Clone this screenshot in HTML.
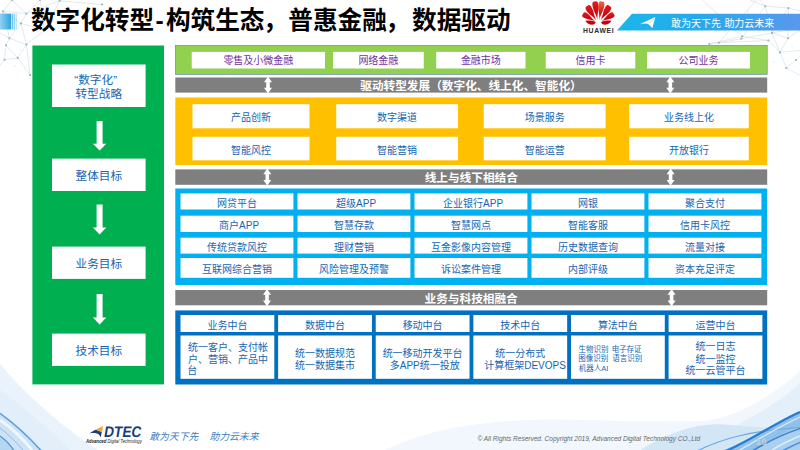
<!DOCTYPE html>
<html lang="zh-CN"><head><meta charset="utf-8"><title>数字化转型</title>
<style>
html,body{margin:0;padding:0;background:#fff}
body{width:800px;height:450px;overflow:hidden;font-family:"Liberation Sans","Noto Sans CJK SC",sans-serif}
#slide{position:relative;width:800px;height:450px;overflow:hidden;background:#fff}
.b{position:absolute}
.t{position:absolute;color:transparent;white-space:nowrap;line-height:1.2;overflow:hidden;height:1.2em}
svg.l{position:absolute;left:0;top:0;width:800px;height:450px}
svg.l text{font-family:"Liberation Sans","Noto Sans CJK SC",sans-serif;white-space:pre}
.ft{position:absolute;font-style:italic;white-space:nowrap}
</style></head><body><div id="slide">
<svg class="l" viewBox="0 0 800 450">
<defs>
<linearGradient id="gbar" x1="0" x2="1" y1="0" y2="0"><stop offset="0" stop-color="#93d0f1"/><stop offset="1" stop-color="#27a6e0"/></linearGradient>
<linearGradient id="gban" x1="0" x2="1" y1="0" y2="0"><stop offset="0" stop-color="#1bb6ea"/><stop offset="0.45" stop-color="#27a9ea"/><stop offset="1" stop-color="#5998ee"/></linearGradient>
<linearGradient id="gpl" x1="0" x2="0" y1="0" y2="1"><stop offset="0" stop-color="#e21a1e"/><stop offset="1" stop-color="#b8000c"/></linearGradient>
<linearGradient id="gpr" x1="0" x2="0" y1="0" y2="1"><stop offset="0" stop-color="#f26a48"/><stop offset="0.55" stop-color="#dc1c1c"/><stop offset="1" stop-color="#bc000c"/></linearGradient>
<linearGradient id="gwl" x1="0" x2="1" y1="0" y2="1"><stop offset="0" stop-color="#f1f7fc"/><stop offset="1" stop-color="#dcebf8"/></linearGradient>
</defs>
<path d="M3 11.3L21 23.4M3 11.3L26.4 13.6M21 23.4L26.4 13.6M21 23.4L9.4 38.2M9.4 38.2L6 45.3M9.4 38.2L26.4 44.6M6 45.3L17.8 57.9M26.4 44.6L17.8 57.9M17.8 57.9L4.5 59.7M6 45.3L4.5 59.7M26.4 13.6L59.7 0.8M26.4 13.6L40 0M59.7 0.8L102 4.5M3 11.3L-5 30M9.4 38.2L-5 30M4.5 59.7L-4 70M17.8 57.9L30 75M26.4 44.6L45 30M21 23.4L45 30M45 30L59.7 0.8M3 11.3L12 0M26.4 13.6L12 0M21 23.4L26.4 44.6M9.4 38.2L3 11.3M26.4 44.6L30 75M45 30L40 0" stroke="#cfdbe2" stroke-width="0.6" fill="none"/><circle cx="3" cy="11.3" r="1.05" fill="#8fb6c6"/><circle cx="21" cy="23.4" r="1.05" fill="#8fb6c6"/><circle cx="26.4" cy="13.6" r="1.05" fill="#8fb6c6"/><circle cx="9.4" cy="38.2" r="1.05" fill="#8fb6c6"/><circle cx="6" cy="45.3" r="1.05" fill="#8fb6c6"/><circle cx="26.4" cy="44.6" r="1.05" fill="#8fb6c6"/><circle cx="17.8" cy="57.9" r="1.05" fill="#8fb6c6"/><circle cx="4.5" cy="59.7" r="1.05" fill="#8fb6c6"/><circle cx="59.7" cy="0.8" r="1.05" fill="#8fb6c6"/><circle cx="102" cy="4.5" r="1.05" fill="#8fb6c6"/><circle cx="40" cy="0" r="1.05" fill="#8fb6c6"/><circle cx="30" cy="75" r="1.05" fill="#8fb6c6"/><circle cx="45" cy="30" r="1.05" fill="#8fb6c6"/><circle cx="12" cy="0" r="1.05" fill="#8fb6c6"/><circle cx="14" cy="30" r="0.5" fill="#b9cdd6"/><circle cx="20" cy="50" r="0.5" fill="#b9cdd6"/><circle cx="33" cy="28" r="0.5" fill="#b9cdd6"/><circle cx="8" cy="22" r="0.5" fill="#b9cdd6"/><circle cx="36" cy="8" r="0.5" fill="#b9cdd6"/><circle cx="15" cy="66" r="0.5" fill="#b9cdd6"/><circle cx="48" cy="12" r="0.5" fill="#b9cdd6"/>
<path d="M709.3 44L718.8 42.7M718.8 42.7L741.3 38.8M741.3 38.8L772 32.9M772 32.9L805 27M741.3 38.8L765.3 6.2M765.3 6.2L788.4 8M742.2 36.4L700 -2M772 32.9L780 52.4M780 52.4L786.3 68M768.4 40.5L780 52.4M772 32.9L788 38.2M788 38.2L780 52.4M788 38.2L805 27M765.3 6.2L772 32.9M786.3 68L805 78M718.8 42.7L758 -2M788.4 8L805 12M788.4 8L788 38.2M742.2 36.4L768.4 40.5M780 52.4L805 50M765.3 6.2L745 -2M788.4 8L772 32.9M786.3 68L796 60M796 60L805 50M768.4 40.5L718.8 42.7M709.3 44L742.2 36.4M765.3 6.2L758 -2" stroke="#cfdbe2" stroke-width="0.6" fill="none"/><circle cx="765.3" cy="6.2" r="1.05" fill="#8fb6c6"/><circle cx="788.4" cy="8" r="1.05" fill="#8fb6c6"/><circle cx="709.3" cy="44" r="1.05" fill="#8fb6c6"/><circle cx="718.8" cy="42.7" r="1.05" fill="#8fb6c6"/><circle cx="741.3" cy="38.8" r="1.05" fill="#8fb6c6"/><circle cx="742.2" cy="36.4" r="1.05" fill="#8fb6c6"/><circle cx="772" cy="32.9" r="1.05" fill="#8fb6c6"/><circle cx="768.4" cy="40.5" r="1.05" fill="#8fb6c6"/><circle cx="788" cy="38.2" r="1.05" fill="#8fb6c6"/><circle cx="780" cy="52.4" r="1.05" fill="#8fb6c6"/><circle cx="786.3" cy="68" r="1.05" fill="#8fb6c6"/><circle cx="796" cy="60" r="1.05" fill="#8fb6c6"/><circle cx="730" cy="20" r="0.5" fill="#b9cdd6"/><circle cx="752" cy="25" r="0.5" fill="#b9cdd6"/><circle cx="776" cy="18" r="0.5" fill="#b9cdd6"/><circle cx="794" cy="22" r="0.5" fill="#b9cdd6"/><circle cx="760" cy="48" r="0.5" fill="#b9cdd6"/><circle cx="792" cy="46" r="0.5" fill="#b9cdd6"/><circle cx="774" cy="62" r="0.5" fill="#b9cdd6"/><circle cx="722" cy="30" r="0.5" fill="#b9cdd6"/><circle cx="748" cy="12" r="0.5" fill="#b9cdd6"/><circle cx="784" cy="30" r="0.5" fill="#b9cdd6"/>
<rect x="0" y="13.6" width="11.3" height="15.9" fill="url(#gbar)"/>
<rect x="12.3" y="13.6" width="1.0" height="15.9" fill="#3aaee3"/>
<rect x="14.4" y="13.6" width="0.8" height="15.9" fill="#55b8e7"/>
<rect x="16.1" y="13.6" width="0.5" height="15.9" fill="#7cc8ec"/>
<path d="M632.0 13.7H800V30.6H616.9z" fill="url(#gban)"/>
<path d="M655.4 16.9L639.8 24.2Q645 22.9 647.7 23.8Q650.4 25.4 652.3 28.2z" fill="#fff"/>
<path d="M654.6 18.2L648.6 23.6" stroke="#58c2ee" stroke-width="0.5" fill="none"/>
<path fill="url(#gpl)" d="M597.40 19.80C597.08 13.85 599.07 9.83 598.37 4.68C597.92 1.36 596.75 0.77 594.90 1.40C592.95 1.29 591.98 2.17 592.43 5.48C593.13 10.64 596.12 13.98 597.40 19.80z"/>
<path fill="url(#gpr)" d="M599.40 19.80C600.68 13.98 603.67 10.64 604.37 5.48C604.82 2.17 603.85 1.29 601.90 1.40C600.05 0.77 598.88 1.36 598.43 4.68C597.73 9.83 599.72 13.85 599.40 19.80z"/>
<path fill="url(#gpl)" d="M596.10 20.20C593.67 15.40 594.06 11.20 591.56 7.22C589.96 4.66 588.68 4.68 587.20 6.00C585.37 6.75 584.79 7.90 586.40 10.46C588.89 14.44 592.84 15.92 596.10 20.20z"/>
<path fill="url(#gpl)" d="M600.70 20.20C603.96 15.92 607.91 14.44 610.40 10.46C612.01 7.90 611.43 6.75 609.60 6.00C608.12 4.68 606.84 4.66 605.24 7.22C602.74 11.20 603.13 15.40 600.70 20.20z"/>
<path fill="url(#gpl)" d="M594.90 21.00C591.32 18.34 590.15 14.90 586.81 12.92C584.67 11.64 583.68 12.22 583.00 13.90C581.84 15.30 581.80 16.45 583.95 17.72C587.28 19.71 590.86 19.11 594.90 21.00z"/>
<path fill="url(#gpl)" d="M601.90 21.00C605.94 19.11 609.52 19.71 612.85 17.72C615.00 16.45 614.96 15.30 613.80 13.90C613.12 12.22 612.13 11.64 609.99 12.92C606.65 14.90 605.48 18.34 601.90 21.00z"/>
<path fill="#c8000e" d="M595.7 22.0C592 20.5 588 20.3 585.4 20.9C587 23.6 590.4 25.2 593.4 24.6C594.7 24.2 595.5 23.2 595.7 22.0z"/>
<path fill="#c8000e" d="M601.1 22.0C604.8 20.5 608.8 20.3 611.4 20.9C609.8 23.6 606.4 25.2 603.4 24.6C602.1 24.2 601.3 23.2 601.1 22.0z"/>
<path d="M0 364C20 388 55 422 98 450H0z" fill="#eaf3fb"/>
<path d="M0 390C25 408 50 430 70 450H0z" fill="#e2eef9"/>
<path d="M0 413C14 423 30 438 41 450H0z" fill="#cde3f5"/>
<path d="M0 436C6 440 11 446 14 450H0z" fill="#b4d6f1"/>
<path d="M0 413.3C14 423.3 30 438.3 41 450.5" stroke="#5a9edb" stroke-width="1.5" fill="none"/>
<path d="M0 420C12 428 24 440 32 450" stroke="#f0f7fd" stroke-width="2.8" fill="none"/>
<path d="M0 428C8 434 17 443 23 450" stroke="#8cbfe8" stroke-width="1" fill="none"/>
<path d="M0 436C6 440 11 446 14 450.5" stroke="#4f98d6" stroke-width="1.3" fill="none"/>
<path d="M385 450C455 416 545 418 620 421C650 421.5 680 421.5 700 421C730 420 768 400 800 371V450z" fill="#f1f7fc"/>
<path d="M690 450C722 432 772 410 800 383V450z" fill="#e3effa"/>
<path d="M640 450C670 432 700 421 730 425C760 428 780 428 800 429V450z" fill="#d3e6f6"/>
<path d="M800 411C775 422 750 440 724 450H754C770 440 785 432 800 427z" fill="#8fc1eb"/>
<path d="M800 428C785 433 768 441 754 450H800z" fill="#a9d0f0"/>
<path d="M698 450.5C722 439 748 431 800 427.5" stroke="#6aa9e0" stroke-width="1.2" fill="none"/>
<path d="M800 412C775 423 750 441 726 451" stroke="#2b7bcc" stroke-width="2.2" fill="none"/>
<path d="M800 417C778 427 756 441 738 451" stroke="#d4e8f8" stroke-width="1.3" fill="none"/>
<path d="M800 428.5C785 433.5 768 441.5 753 450.5" stroke="#3a86d2" stroke-width="1.6" fill="none"/>
<path d="M800 436C790 440 780 445 772 450" stroke="#e0eefa" stroke-width="1.4" fill="none"/>
<path d="M800 442.5C794 445 788 448 783 450.5" stroke="#4a90d8" stroke-width="1.4" fill="none"/>
</svg>
<div class="b " style="left:32.40px;top:45.50px;width:131.60px;height:338.90px"></div>
<div class="b " style="left:52.00px;top:64.50px;width:93.60px;height:42.50px"></div>
<div class="b " style="left:52.00px;top:158.60px;width:93.60px;height:32.40px"></div>
<div class="b " style="left:52.00px;top:246.60px;width:93.60px;height:32.30px"></div>
<div class="b " style="left:52.00px;top:333.60px;width:93.60px;height:32.30px"></div>
<div class="b " style="left:175.30px;top:45.40px;width:591.90px;height:29.10px"></div>
<div class="b " style="left:191.75px;top:51.90px;width:133.25px;height:16.60px"></div>
<div class="b " style="left:333.00px;top:51.90px;width:90.75px;height:16.60px"></div>
<div class="b " style="left:436.25px;top:51.90px;width:89.25px;height:16.60px"></div>
<div class="b " style="left:545.75px;top:51.90px;width:89.50px;height:16.60px"></div>
<div class="b " style="left:647.00px;top:51.90px;width:103.00px;height:16.60px"></div>
<div class="b " style="left:175.30px;top:77.50px;width:591.90px;height:15.10px"></div>
<div class="b " style="left:175.30px;top:169.40px;width:591.90px;height:15.40px"></div>
<div class="b " style="left:175.30px;top:290.00px;width:591.90px;height:15.30px"></div>
<div class="b " style="left:175.30px;top:97.50px;width:591.90px;height:67.50px"></div>
<div class="b " style="left:192.50px;top:104.20px;width:117.00px;height:24.10px"></div>
<div class="b " style="left:336.25px;top:104.20px;width:121.75px;height:24.10px"></div>
<div class="b " style="left:483.75px;top:104.20px;width:121.85px;height:24.10px"></div>
<div class="b " style="left:629.25px;top:104.20px;width:119.50px;height:24.10px"></div>
<div class="b " style="left:192.50px;top:136.80px;width:117.00px;height:23.50px"></div>
<div class="b " style="left:336.25px;top:136.80px;width:121.75px;height:23.50px"></div>
<div class="b " style="left:483.75px;top:136.80px;width:121.85px;height:23.50px"></div>
<div class="b " style="left:629.25px;top:136.80px;width:119.50px;height:23.50px"></div>
<div class="b " style="left:175.30px;top:188.50px;width:591.90px;height:96.50px"></div>
<div class="b " style="left:180.50px;top:193.40px;width:112.90px;height:16.10px"></div>
<div class="b " style="left:297.50px;top:193.40px;width:112.90px;height:16.10px"></div>
<div class="b " style="left:414.50px;top:193.40px;width:112.90px;height:16.10px"></div>
<div class="b " style="left:531.50px;top:193.40px;width:112.90px;height:16.10px"></div>
<div class="b " style="left:648.50px;top:193.40px;width:112.90px;height:16.10px"></div>
<div class="b " style="left:180.50px;top:215.70px;width:112.90px;height:16.30px"></div>
<div class="b " style="left:297.50px;top:215.70px;width:112.90px;height:16.30px"></div>
<div class="b " style="left:414.50px;top:215.70px;width:112.90px;height:16.30px"></div>
<div class="b " style="left:531.50px;top:215.70px;width:112.90px;height:16.30px"></div>
<div class="b " style="left:648.50px;top:215.70px;width:112.90px;height:16.30px"></div>
<div class="b " style="left:180.50px;top:237.70px;width:112.90px;height:15.90px"></div>
<div class="b " style="left:297.50px;top:237.70px;width:112.90px;height:15.90px"></div>
<div class="b " style="left:414.50px;top:237.70px;width:112.90px;height:15.90px"></div>
<div class="b " style="left:531.50px;top:237.70px;width:112.90px;height:15.90px"></div>
<div class="b " style="left:648.50px;top:237.70px;width:112.90px;height:15.90px"></div>
<div class="b " style="left:180.50px;top:258.00px;width:112.90px;height:19.80px"></div>
<div class="b " style="left:297.50px;top:258.00px;width:112.90px;height:19.80px"></div>
<div class="b " style="left:414.50px;top:258.00px;width:112.90px;height:19.80px"></div>
<div class="b " style="left:531.50px;top:258.00px;width:112.90px;height:19.80px"></div>
<div class="b " style="left:648.50px;top:258.00px;width:112.90px;height:19.80px"></div>
<div class="b " style="left:175.30px;top:310.40px;width:591.90px;height:74.10px"></div>
<div class="b " style="left:180.50px;top:315.00px;width:93.80px;height:17.00px"></div>
<div class="b " style="left:180.50px;top:335.50px;width:93.80px;height:43.30px"></div>
<div class="b " style="left:278.12px;top:315.00px;width:93.80px;height:17.00px"></div>
<div class="b " style="left:278.12px;top:335.50px;width:93.80px;height:43.30px"></div>
<div class="b " style="left:375.74px;top:315.00px;width:93.80px;height:17.00px"></div>
<div class="b " style="left:375.74px;top:335.50px;width:93.80px;height:43.30px"></div>
<div class="b " style="left:473.36px;top:315.00px;width:93.80px;height:17.00px"></div>
<div class="b " style="left:473.36px;top:335.50px;width:93.80px;height:43.30px"></div>
<div class="b " style="left:570.98px;top:315.00px;width:93.80px;height:17.00px"></div>
<div class="b " style="left:570.98px;top:335.50px;width:93.80px;height:43.30px"></div>
<div class="b " style="left:668.60px;top:315.00px;width:93.80px;height:17.00px"></div>
<div class="b " style="left:668.60px;top:335.50px;width:93.80px;height:43.30px"></div>
<span class="t" style="left:30.9px;top:5.6px;font-size:24.65px;width:127.2px">数字化转型</span>
<span class="t" style="left:155.4px;top:5.6px;font-size:24.65px;width:13.1px">-</span>
<span class="t" style="left:165.9px;top:5.6px;font-size:24.65px;width:102.6px">构筑生态</span>
<span class="t" style="left:263.0px;top:5.6px;font-size:24.65px;width:28.6px">，</span>
<span class="t" style="left:288.3px;top:5.6px;font-size:24.65px;width:102.6px">普惠金融</span>
<span class="t" style="left:385.4px;top:5.6px;font-size:24.65px;width:28.6px">，</span>
<span class="t" style="left:412.0px;top:5.6px;font-size:24.65px;width:102.6px">数据驱动</span>
<span class="t" style="left:74.3px;top:72.3px;font-size:11.67px;width:53.0px">“数字化”</span>
<span class="t" style="left:75.5px;top:86.6px;font-size:11.67px;width:50.7px">转型战略</span>
<span class="t" style="left:75.6px;top:168.5px;font-size:11.67px;width:50.7px">整体目标</span>
<span class="t" style="left:75.6px;top:256.6px;font-size:11.67px;width:50.7px">业务目标</span>
<span class="t" style="left:75.6px;top:343.3px;font-size:11.67px;width:50.7px">技术目标</span>
<span class="t" style="left:223.4px;top:54.6px;font-size:10.00px;width:74.0px">零售及小微金融</span>
<span class="t" style="left:358.4px;top:54.6px;font-size:10.00px;width:44.0px">网络金融</span>
<span class="t" style="left:460.9px;top:54.6px;font-size:10.00px;width:44.0px">金融市场</span>
<span class="t" style="left:575.5px;top:54.6px;font-size:10.00px;width:34.0px">信用卡</span>
<span class="t" style="left:678.5px;top:54.6px;font-size:10.00px;width:44.0px">公司业务</span>
<span class="t" style="left:360.2px;top:78.5px;font-size:11.67px;width:225.7px">驱动转型发展（数字化、线上化、智能化）</span>
<span class="t" style="left:424.6px;top:170.6px;font-size:11.67px;width:97.4px">线上与线下相结合</span>
<span class="t" style="left:424.5px;top:291.3px;font-size:11.67px;width:97.4px">业务与科技相融合</span>
<span class="t" style="left:231.0px;top:111.8px;font-size:10.00px;width:44.0px">产品创新</span>
<span class="t" style="left:377.1px;top:111.8px;font-size:10.00px;width:44.0px">数字渠道</span>
<span class="t" style="left:524.7px;top:111.8px;font-size:10.00px;width:44.0px">场景服务</span>
<span class="t" style="left:664.0px;top:111.8px;font-size:10.00px;width:54.0px">业务线上化</span>
<span class="t" style="left:231.0px;top:144.1px;font-size:10.00px;width:44.0px">智能风控</span>
<span class="t" style="left:377.1px;top:144.1px;font-size:10.00px;width:44.0px">智能营销</span>
<span class="t" style="left:524.7px;top:144.1px;font-size:10.00px;width:44.0px">智能运营</span>
<span class="t" style="left:669.0px;top:144.1px;font-size:10.00px;width:44.0px">开放银行</span>
<span class="t" style="left:216.9px;top:196.9px;font-size:10.00px;width:44.0px">网贷平台</span>
<span class="t" style="left:336.1px;top:196.9px;font-size:10.00px;width:39.7px">超级APP</span>
<span class="t" style="left:443.1px;top:196.9px;font-size:10.00px;width:59.7px">企业银行APP</span>
<span class="t" style="left:578.0px;top:196.9px;font-size:10.00px;width:24.0px">网银</span>
<span class="t" style="left:685.0px;top:196.9px;font-size:10.00px;width:44.0px">聚合支付</span>
<span class="t" style="left:219.1px;top:219.3px;font-size:10.00px;width:39.7px">商户APP</span>
<span class="t" style="left:333.9px;top:219.3px;font-size:10.00px;width:44.0px">智慧存款</span>
<span class="t" style="left:450.9px;top:219.3px;font-size:10.00px;width:44.0px">智慧网点</span>
<span class="t" style="left:568.0px;top:219.3px;font-size:10.00px;width:44.0px">智能客服</span>
<span class="t" style="left:680.0px;top:219.3px;font-size:10.00px;width:54.0px">信用卡风控</span>
<span class="t" style="left:206.9px;top:241.1px;font-size:10.00px;width:64.0px">传统贷款风控</span>
<span class="t" style="left:333.9px;top:241.1px;font-size:10.00px;width:44.0px">理财营销</span>
<span class="t" style="left:430.9px;top:241.1px;font-size:10.00px;width:84.0px">互金影像内容管理</span>
<span class="t" style="left:558.0px;top:241.1px;font-size:10.00px;width:64.0px">历史数据查询</span>
<span class="t" style="left:685.0px;top:241.1px;font-size:10.00px;width:44.0px">流量对接</span>
<span class="t" style="left:201.9px;top:263.4px;font-size:10.00px;width:74.0px">互联网综合营销</span>
<span class="t" style="left:318.9px;top:263.4px;font-size:10.00px;width:74.0px">风险管理及预警</span>
<span class="t" style="left:440.9px;top:263.4px;font-size:10.00px;width:64.0px">诉讼案件管理</span>
<span class="t" style="left:568.0px;top:263.4px;font-size:10.00px;width:44.0px">内部评级</span>
<span class="t" style="left:675.0px;top:263.4px;font-size:10.00px;width:64.0px">资本充足评定</span>
<span class="t" style="left:207.4px;top:318.9px;font-size:10.00px;width:44.0px">业务中台</span>
<span class="t" style="left:305.0px;top:318.9px;font-size:10.00px;width:44.0px">数据中台</span>
<span class="t" style="left:402.6px;top:318.9px;font-size:10.00px;width:44.0px">移动中台</span>
<span class="t" style="left:500.3px;top:318.9px;font-size:10.00px;width:44.0px">技术中台</span>
<span class="t" style="left:597.9px;top:318.9px;font-size:10.00px;width:44.0px">算法中台</span>
<span class="t" style="left:695.5px;top:318.9px;font-size:10.00px;width:44.0px">运营中台</span>
<span class="t" style="left:188.0px;top:341.3px;font-size:10.00px;width:84.0px">统一客户、支付帐</span>
<span class="t" style="left:188.0px;top:353.0px;font-size:10.00px;width:84.0px">户、营销、产品中</span>
<span class="t" style="left:187.3px;top:364.8px;font-size:10.00px;width:14.0px">台</span>
<span class="t" style="left:295.0px;top:347.3px;font-size:10.00px;width:64.0px">统一数据规范</span>
<span class="t" style="left:295.0px;top:359.2px;font-size:10.00px;width:64.0px">统一数据集市</span>
<span class="t" style="left:382.6px;top:347.3px;font-size:10.00px;width:84.0px">统一移动开发平台</span>
<span class="t" style="left:389.8px;top:359.2px;font-size:10.00px;width:69.7px">多APP统一投放</span>
<span class="t" style="left:495.3px;top:347.3px;font-size:10.00px;width:54.0px">统一分布式</span>
<span class="t" style="left:484.2px;top:359.2px;font-size:10.00px;width:76.1px">计算框架DEVOPS</span>
<span class="t" style="left:578.5px;top:344.5px;font-size:7.50px;width:34.0px">生物识别</span>
<span class="t" style="left:611.6px;top:344.5px;font-size:7.50px;width:34.0px">电子存证</span>
<span class="t" style="left:578.3px;top:354.1px;font-size:7.50px;width:34.0px">图像识别</span>
<span class="t" style="left:612.3px;top:354.1px;font-size:7.50px;width:34.0px">语言识别</span>
<span class="t" style="left:578.7px;top:363.5px;font-size:7.50px;width:32.2px">机器人AI</span>
<span class="t" style="left:695.5px;top:340.8px;font-size:10.00px;width:44.0px">统一日志</span>
<span class="t" style="left:695.5px;top:352.9px;font-size:10.00px;width:44.0px">统一监控</span>
<span class="t" style="left:685.5px;top:364.8px;font-size:10.00px;width:64.0px">统一云管平台</span>
<span class="t" style="left:671.0px;top:17.3px;font-size:10.00px;width:54.0px">敢为天下先</span>
<span class="t" style="left:724.4px;top:17.3px;font-size:10.00px;width:54.0px">助力云未来</span>
<span class="t" style="left:149.2px;top:431.0px;font-size:9.80px;width:53.0px">敢为天下先</span>
<span class="t" style="left:209.4px;top:431.0px;font-size:9.80px;width:53.0px">助力云未来</span>
<svg class="l" viewBox="0 0 800 450">
<rect x="32.40" y="45.50" width="131.60" height="338.90" fill="#00b050"/>
<rect x="52.00" y="64.50" width="93.60" height="42.50" fill="#fff"/>
<rect x="52.00" y="158.60" width="93.60" height="32.40" fill="#fff"/>
<rect x="52.00" y="246.60" width="93.60" height="32.30" fill="#fff"/>
<rect x="52.00" y="333.60" width="93.60" height="32.30" fill="#fff"/>
<rect x="175.30" y="45.40" width="591.90" height="29.10" fill="#92d050" stroke="#5b86ad" stroke-width="0.6"/>
<rect x="191.75" y="51.90" width="133.25" height="16.60" fill="#fff"/>
<rect x="333.00" y="51.90" width="90.75" height="16.60" fill="#fff"/>
<rect x="436.25" y="51.90" width="89.25" height="16.60" fill="#fff"/>
<rect x="545.75" y="51.90" width="89.50" height="16.60" fill="#fff"/>
<rect x="647.00" y="51.90" width="103.00" height="16.60" fill="#fff"/>
<rect x="175.30" y="77.50" width="591.90" height="15.10" fill="#7f7f7f"/>
<rect x="175.30" y="169.40" width="591.90" height="15.40" fill="#7f7f7f"/>
<rect x="175.30" y="290.00" width="591.90" height="15.30" fill="#7f7f7f"/>
<rect x="175.30" y="97.50" width="591.90" height="67.50" fill="#ffc000"/>
<rect x="192.50" y="104.20" width="117.00" height="24.10" fill="#fff"/>
<rect x="336.25" y="104.20" width="121.75" height="24.10" fill="#fff"/>
<rect x="483.75" y="104.20" width="121.85" height="24.10" fill="#fff"/>
<rect x="629.25" y="104.20" width="119.50" height="24.10" fill="#fff"/>
<rect x="192.50" y="136.80" width="117.00" height="23.50" fill="#fff"/>
<rect x="336.25" y="136.80" width="121.75" height="23.50" fill="#fff"/>
<rect x="483.75" y="136.80" width="121.85" height="23.50" fill="#fff"/>
<rect x="629.25" y="136.80" width="119.50" height="23.50" fill="#fff"/>
<rect x="175.30" y="188.50" width="591.90" height="96.50" fill="#00b0f0"/>
<rect x="180.50" y="193.40" width="112.90" height="16.10" fill="#fff"/>
<rect x="297.50" y="193.40" width="112.90" height="16.10" fill="#fff"/>
<rect x="414.50" y="193.40" width="112.90" height="16.10" fill="#fff"/>
<rect x="531.50" y="193.40" width="112.90" height="16.10" fill="#fff"/>
<rect x="648.50" y="193.40" width="112.90" height="16.10" fill="#fff"/>
<rect x="180.50" y="215.70" width="112.90" height="16.30" fill="#fff"/>
<rect x="297.50" y="215.70" width="112.90" height="16.30" fill="#fff"/>
<rect x="414.50" y="215.70" width="112.90" height="16.30" fill="#fff"/>
<rect x="531.50" y="215.70" width="112.90" height="16.30" fill="#fff"/>
<rect x="648.50" y="215.70" width="112.90" height="16.30" fill="#fff"/>
<rect x="180.50" y="237.70" width="112.90" height="15.90" fill="#fff"/>
<rect x="297.50" y="237.70" width="112.90" height="15.90" fill="#fff"/>
<rect x="414.50" y="237.70" width="112.90" height="15.90" fill="#fff"/>
<rect x="531.50" y="237.70" width="112.90" height="15.90" fill="#fff"/>
<rect x="648.50" y="237.70" width="112.90" height="15.90" fill="#fff"/>
<rect x="180.50" y="258.00" width="112.90" height="19.80" fill="#fff"/>
<rect x="297.50" y="258.00" width="112.90" height="19.80" fill="#fff"/>
<rect x="414.50" y="258.00" width="112.90" height="19.80" fill="#fff"/>
<rect x="531.50" y="258.00" width="112.90" height="19.80" fill="#fff"/>
<rect x="648.50" y="258.00" width="112.90" height="19.80" fill="#fff"/>
<rect x="175.30" y="310.40" width="591.90" height="74.10" fill="#0070c0"/>
<rect x="180.50" y="315.00" width="93.80" height="17.00" fill="#fff"/>
<rect x="180.50" y="335.50" width="93.80" height="43.30" fill="#fff"/>
<rect x="278.12" y="315.00" width="93.80" height="17.00" fill="#fff"/>
<rect x="278.12" y="335.50" width="93.80" height="43.30" fill="#fff"/>
<rect x="375.74" y="315.00" width="93.80" height="17.00" fill="#fff"/>
<rect x="375.74" y="335.50" width="93.80" height="43.30" fill="#fff"/>
<rect x="473.36" y="315.00" width="93.80" height="17.00" fill="#fff"/>
<rect x="473.36" y="335.50" width="93.80" height="43.30" fill="#fff"/>
<rect x="570.98" y="315.00" width="93.80" height="17.00" fill="#fff"/>
<rect x="570.98" y="335.50" width="93.80" height="43.30" fill="#fff"/>
<rect x="668.60" y="315.00" width="93.80" height="17.00" fill="#fff"/>
<rect x="668.60" y="335.50" width="93.80" height="43.30" fill="#fff"/>
<path fill="#fff" d="M96.60 121.00h6.00V143.70h3.70L99.60 150.60L92.90 143.70h3.70z"/>
<path fill="#fff" d="M96.60 204.60h6.00V227.60h3.70L99.60 234.40L92.90 227.60h3.70z"/>
<path fill="#fff" d="M96.60 294.00h6.00V317.60h3.70L99.60 324.40L92.90 317.60h3.70z"/>
<path fill="#fff" d="M268.00 76.60l4.00 5.60h-2.20V87.80h2.20L268.00 93.40l-4.00 -5.60h2.20V82.20h-2.20z"/>
<path fill="#fff" d="M670.30 76.60l4.00 5.60h-2.20V87.80h2.20L670.30 93.40l-4.00 -5.60h2.20V82.20h-2.20z"/>
<path fill="#fff" d="M267.30 168.60l4.00 5.60h-2.20V180.00h2.20L267.30 185.60l-4.00 -5.60h2.20V174.20h-2.20z"/>
<path fill="#fff" d="M670.60 168.60l4.00 5.60h-2.20V180.00h2.20L670.60 185.60l-4.00 -5.60h2.20V174.20h-2.20z"/>
<path fill="#fff" d="M267.00 289.10l4.00 5.60h-2.20V300.60h2.20L267.00 306.20l-4.00 -5.60h2.20V294.70h-2.20z"/>
<path fill="#fff" d="M671.60 289.10l4.00 5.60h-2.20V300.60h2.20L671.60 306.20l-4.00 -5.60h2.20V294.70h-2.20z"/>
<g font-size="24.65" font-weight="bold" fill="#000">
<text x="30.91" y="29.40">数字化转型</text>
<text x="155.42" y="29.40">-</text>
<text x="165.91" y="29.40">构筑生态</text>
<text x="262.96" y="29.40">，</text>
<text x="288.32" y="29.40">普惠金融</text>
<text x="385.36" y="29.40">，</text>
<text x="412.01" y="29.40">数据驱动</text>
</g>
<g font-size="11.67" fill="#1465b2">
<text x="74.29" y="83.56">“数字化”</text>
<text x="75.46" y="97.86">转型战略</text>
<text x="75.56" y="179.76">整体目标</text>
<text x="75.56" y="267.86">业务目标</text>
<text x="75.56" y="354.56">技术目标</text>
</g>
<g font-size="10" fill="#7030a0">
<text x="223.38" y="64.25">零售及小微金融</text>
<text x="358.38" y="64.25">网络金融</text>
<text x="460.88" y="64.25">金融市场</text>
<text x="575.50" y="64.25">信用卡</text>
<text x="678.50" y="64.25">公司业务</text>
</g>
<g font-size="11.67" font-weight="bold" fill="#fff">
<text x="360.23" y="89.76">驱动转型发展（数字化、线上化、智能化）</text>
<text x="424.64" y="181.86">线上与线下相结合</text>
<text x="424.50" y="302.56">业务与科技相融合</text>
</g>
<g font-size="10" fill="#1465b2">
<text x="231.00" y="121.40">产品创新</text>
<text x="377.12" y="121.40">数字渠道</text>
<text x="524.67" y="121.40">场景服务</text>
<text x="664.00" y="121.40">业务线上化</text>
<text x="231.00" y="153.70">智能风控</text>
<text x="377.12" y="153.70">智能营销</text>
<text x="524.67" y="153.70">智能运营</text>
<text x="669.00" y="153.70">开放银行</text>
<text x="216.95" y="206.60">网贷平台</text>
<text x="336.08" y="206.60">超级APP</text>
<text x="443.08" y="206.60">企业银行APP</text>
<text x="577.95" y="206.60">网银</text>
<text x="684.95" y="206.60">聚合支付</text>
<text x="219.08" y="229.00">商户APP</text>
<text x="333.95" y="229.00">智慧存款</text>
<text x="450.95" y="229.00">智慧网点</text>
<text x="567.95" y="229.00">智能客服</text>
<text x="679.95" y="229.00">信用卡风控</text>
<text x="206.95" y="250.80">传统贷款风控</text>
<text x="333.95" y="250.80">理财营销</text>
<text x="430.95" y="250.80">互金影像内容管理</text>
<text x="557.95" y="250.80">历史数据查询</text>
<text x="684.95" y="250.80">流量对接</text>
<text x="201.95" y="273.05">互联网综合营销</text>
<text x="318.95" y="273.05">风险管理及预警</text>
<text x="440.95" y="273.05">诉讼案件管理</text>
<text x="567.95" y="273.05">内部评级</text>
<text x="674.95" y="273.05">资本充足评定</text>
<text x="207.40" y="328.55">业务中台</text>
<text x="305.02" y="328.55">数据中台</text>
<text x="402.64" y="328.55">移动中台</text>
<text x="500.26" y="328.55">技术中台</text>
<text x="597.88" y="328.55">算法中台</text>
<text x="695.50" y="328.55">运营中台</text>
<text x="187.98" y="350.95">统一客户、支付帐</text>
<text x="187.98" y="362.65">户、营销、产品中</text>
<text x="187.30" y="374.45">台</text>
<text x="295.02" y="356.95">统一数据规范</text>
<text x="295.02" y="368.85">统一数据集市</text>
<text x="382.64" y="356.95">统一移动开发平台</text>
<text x="389.77" y="368.85">多APP统一投放</text>
<text x="495.26" y="356.95">统一分布式</text>
<text x="484.20" y="368.85">计算框架DEVOPS</text>
<text x="695.50" y="350.45">统一日志</text>
<text x="695.50" y="362.55">统一监控</text>
<text x="685.50" y="374.45">统一云管平台</text>
</g>
<g font-size="7.5" fill="#1465b2">
<text x="578.48" y="351.74">生物识别</text>
<text x="611.64" y="351.74">电子存证</text>
<text x="578.27" y="361.34">图像识别</text>
<text x="612.27" y="361.34">语言识别</text>
<text x="578.69" y="370.74">机器人AI</text>
</g>
<g font-size="10" fill="#fff">
<text x="671.04" y="26.95">敢为天下先</text>
<text x="724.38" y="26.95">助力云未来</text>
</g>
<g font-size="9.8" fill="#3a7cc0">
<text transform="translate(149.25 440.48) skewX(-15)" x="0" y="0">敢为天下先</text>
<text transform="translate(209.45 440.48) skewX(-15)" x="0" y="0">助力云未来</text>
</g>
</svg>
<div class="ft" style="left:582.9px;top:26.7px;font-size:6.8px;font-weight:bold;font-style:normal;letter-spacing:0.72px;color:#2f2a2c;line-height:8px">HUAWEI</div>
<div class="ft" style="left:103.4px;top:423.4px;font-size:15.4px;font-weight:bold;font-style:normal;color:#163e7b;line-height:17px;transform-origin:0 100%;transform:skewX(-9deg) scaleX(0.885)">DTEC</div>
<div class="ft" style="left:86.4px;top:439.2px;font-size:4.9px;color:#1a1a1a;line-height:6px;transform-origin:0 50%;transform:scaleX(0.865)"><b>Advanced</b> Digital Technology</div>
<div class="ft" style="left:477.4px;top:435.3px;font-size:6.52px;color:#666;line-height:8px">© All Rights Reserved. Copyright 2019, Advanced Digital Technology CO.,Ltd</div>
<div class="ft" style="left:755.7px;top:436.4px;font-size:9.8px;font-weight:bold;font-style:normal;color:#c3ced6;line-height:11px">10</div>
<svg class="l" viewBox="0 0 800 450"><path d="M89.3 433.4C92 431.6 94 430.4 95.8 429.7C98 430.6 100 431.3 101.8 432L100.7 437.6C100.2 435.4 98.8 434 96.9 433.4C94.5 432.8 92 432.9 89.3 433.4z" fill="#1a3f7c"/><path d="M95.8 429.6L103.1 426L101.8 432C100 431.4 98 430.6 95.8 429.6z" fill="#f6a21c"/></svg>

</div></body></html>
